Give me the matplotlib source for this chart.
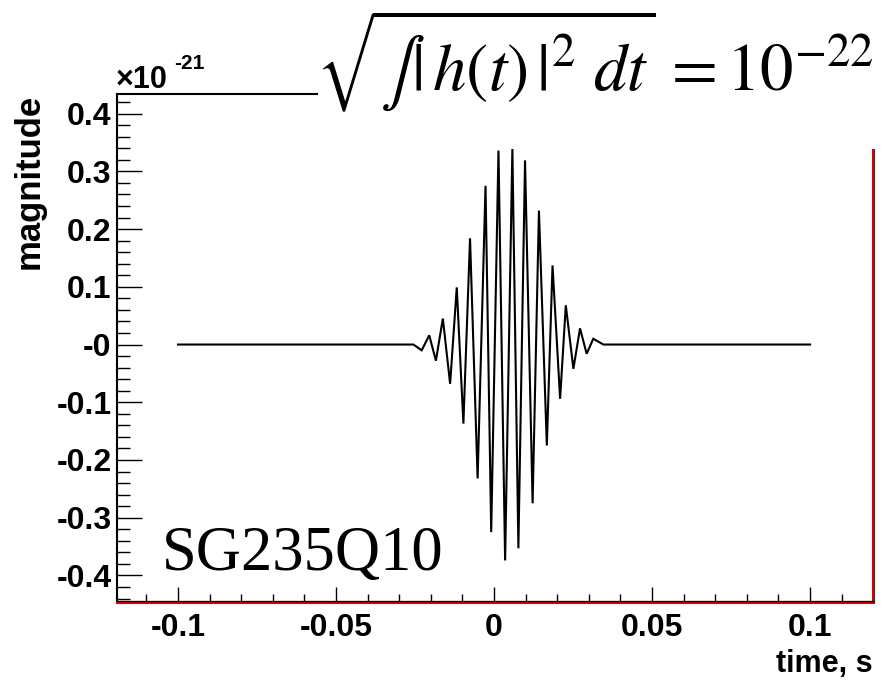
import matplotlib
matplotlib.use('Agg')
import matplotlib.pyplot as plt
from matplotlib.patches import Rectangle
from matplotlib.lines import Line2D
import matplotlib.transforms as mtransforms
from matplotlib.ticker import FixedLocator, MultipleLocator

# ---- data (units of 1e-21): waveform extremes ----
t_vals = [-0.1, -0.0255, -0.0229, -0.0205, -0.0184, -0.0162, -0.0139, -0.0118,
          -0.0097, -0.0076, -0.0052, -0.0027, -0.0009, 0.0014, 0.0035, 0.0058,
          0.0077, 0.0098, 0.0122, 0.0142, 0.0167, 0.0185, 0.0209, 0.0227,
          0.0251, 0.0272, 0.0293, 0.0314, 0.0346, 0.1]
h_vals = [0.0, 0.0, -0.010, 0.016, -0.028, 0.045, -0.068, 0.099,
          -0.137, 0.184, -0.232, 0.275, -0.325, 0.336, -0.374, 0.339,
          -0.353, 0.319, -0.275, 0.232, -0.175, 0.137, -0.094, 0.068,
          -0.042, 0.028, -0.016, 0.010, 0.0, 0.0]

x_ticks = [-0.1, -0.05, 0.0, 0.05, 0.1]
x_tick_labels = ['-0.1', '-0.05', '0', '0.05', '0.1']
y_ticks = [0.4, 0.3, 0.2, 0.1, 0.0, -0.1, -0.2, -0.3, -0.4]
y_tick_labels = ['0.4', '0.3', '0.2', '0.1', '-0', '-0.1', '-0.2', '-0.3', '-0.4']

plt.rcParams['mathtext.fontset'] = 'stix'
SANS = ['Liberation Sans', 'DejaVu Sans']
SERIF = ['Liberation Serif', 'DejaVu Serif']

W, H = 892, 680
fig = plt.figure(figsize=(W / 100, H / 100), dpi=100)
fig.patch.set_facecolor('white')

L, R, T, B = 117, 873, 94, 602
ax = fig.add_axes([L / W, 1 - B / H, (R - L) / W, (B - T) / H])
ax.plot(t_vals, h_vals, color='black', lw=1.5, solid_joinstyle='miter')
ax.set_xlim(-0.1193, 0.1199)
ax.set_ylim(-0.446, 0.434)

ax.xaxis.set_major_locator(FixedLocator(x_ticks))
ax.yaxis.set_major_locator(FixedLocator(y_ticks))
ax.xaxis.set_minor_locator(MultipleLocator(0.01))
ax.yaxis.set_minor_locator(MultipleLocator(0.02))
ax.set_xticklabels(x_tick_labels, fontfamily=SANS, fontweight='bold', fontsize=23)
ax.set_yticklabels(y_tick_labels, fontfamily=SANS, fontweight='bold', fontsize=23)

ax.tick_params(which='both', direction='in', top=False, right=False, color='black')
ax.tick_params(axis='x', which='major', length=11, width=1.0, pad=8)
ax.tick_params(axis='x', which='minor', length=6, width=1.0)
ax.tick_params(axis='y', which='major', length=18, width=1.0, pad=4)
ax.tick_params(axis='y', which='minor', length=9, width=1.0)

for s in ['left', 'top']:
    ax.spines[s].set_color('black')
    ax.spines[s].set_linewidth(1.5)
ax.spines['bottom'].set_color('#dd0000')
ax.spines['bottom'].set_linewidth(2.2)
ax.spines['right'].set_color('#dd0000')
ax.spines['right'].set_linewidth(2.2)

# thin dark edges of the ROOT frame shadow
off_up = mtransforms.ScaledTranslation(0, 1.2 / 100, fig.dpi_scale_trans)
ax.add_line(Line2D([0, 1], [0, 0], transform=ax.transAxes + off_up, color='black',
                   lw=0.9, clip_on=False, zorder=5))
off_rt = mtransforms.ScaledTranslation(1.4 / 100, 0, fig.dpi_scale_trans)
ax.add_line(Line2D([1, 1], [0, 1], transform=ax.transAxes + off_rt, color='#333333',
                   lw=0.8, clip_on=False, zorder=5))

# axis titles
fig.text(29 / W, 1 - 94 / H, 'magnitude', rotation=90, ha='center', va='top',
         fontfamily=SANS, fontweight='bold', fontsize=25)
fig.text(873 / W, 1 - 664 / H, 'time, s', ha='right', va='center',
         fontfamily=SANS, fontweight='bold', fontsize=22)
fig.text(116 / W, 1 - 88 / H, '\u00d710', ha='left', va='baseline',
         fontfamily=SANS, fontweight='bold', fontsize=22)
fig.text(174 / W, 1 - 69 / H, '-21', ha='left', va='baseline',
         fontfamily=SANS, fontweight='bold', fontsize=15)

# white box behind the formula (hides the top-right of the frame)
fig.add_artist(Rectangle((318 / W, 1 - 149 / H), 1 - 318 / W, 149 / H,
                         transform=fig.transFigure, facecolor='white',
                         edgecolor='none', zorder=10))
fig.text(316 / W, 1 - 90 / H, r'$\sqrt{\int|\,h(t)\,|^2\ dt}\,=10^{-22}$',
         ha='left', va='baseline', fontsize=48, zorder=11)

# label inside the plot
fig.text(162 / W, 1 - 570 / H, 'SG235Q10', ha='left', va='baseline',
         fontfamily=SERIF, fontsize=45, zorder=6)

fig.savefig('out.png', dpi=100)
